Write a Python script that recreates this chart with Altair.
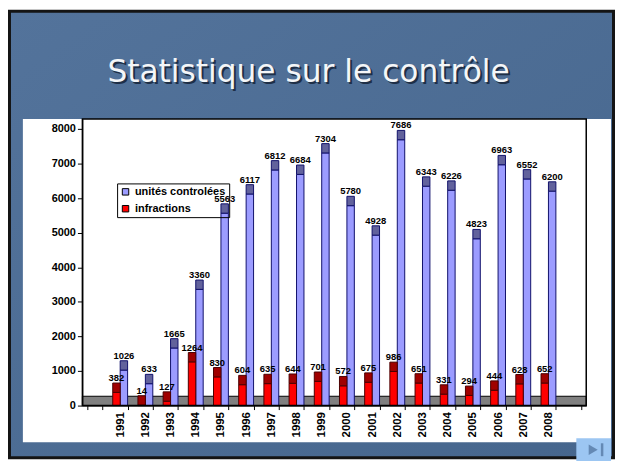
import altair as alt
import pandas as pd

# ---------------- data ----------------
years = ["1991", "1992", "1993", "1994", "1995", "1996", "1997", "1998", "1999",
         "2000", "2001", "2002", "2003", "2004", "2005", "2006", "2007", "2008"]
unites = [1026, 633, 1665, 3360, 5563, 6117, 6812, 6684, 7304,
          5780, 4928, 7686, 6343, 6226, 4823, 6963, 6552, 6200]
infractions = [382, 14, 127, 1264, 830, 604, 635, 644, 701,
               572, 675, 986, 651, 331, 294, 444, 628, 652]
series_names = ["unités controlées", "infractions"]
y_ticks = [0, 1000, 2000, 3000, 4000, 5000, 6000, 7000, 8000]
title_text = "Statistique sur le contrôle"

# ---------------- styles ----------------
DEPTH = 270          # apparent 3D depth of bar tops / floor, in data units
Y_MAX = 8287
W, H = 508, 289
FONT = "Liberation Sans"
fill_colors = {"unités controlées": "#9c9cff", "infractions": "#ff0000"}
cap_colors = {"unités controlées": "#62629c", "infractions": "#a00000"}
stroke_colors = {"unités controlées": "#10106a", "infractions": "#4a0000"}

rows = []
for i, yr in enumerate(years):
    for s, vals in ((series_names[0], unites), (series_names[1], infractions)):
        v = vals[i]
        rows.append({"year": yr, "series": s, "value": v, "top": v + DEPTH,
                     "cap": cap_colors[s], "edge": stroke_colors[s]})
df = pd.DataFrame(rows)

x_domain = ["1990"] + years + ["2009"]

x_enc = alt.X("year:N",
              scale=alt.Scale(domain=x_domain, paddingInner=0.41, paddingOuter=0.205),
              axis=alt.Axis(labelAngle=-90, tickBand="extent", tickSize=4,
                            labelPadding=2, labelFontSize=11.5, zindex=1,
                            labelFont=FONT, labelFontWeight="bold", labelColor="black",
                            domainColor="black", tickColor="black", grid=False,
                            labelOverlap=False,
                            labelExpr="(datum.value == '1990' || datum.value == '2009') ? '' : datum.label"),
              title=None)
xoff_enc = alt.XOffset("series:N",
                       scale=alt.Scale(domain=["infractions", "unités controlées"],
                                       paddingInner=0, paddingOuter=0))
y_scale = alt.Scale(domain=[0, Y_MAX], nice=False, zero=True)
y_axis = alt.Axis(values=y_ticks, format="d", labelOverlap=False, tickCount=9,
                  tickSize=5, labelPadding=2, labelFontSize=11,
                  zindex=1, labelFont=FONT, labelFontWeight="bold",
                  labelColor="black", domainColor="black", tickColor="black",
                  grid=False)

one = pd.DataFrame({"k": [0]})

slide_bg = alt.Chart(one).mark_rect(
    fill=alt.Gradient(gradient="linear",
                      stops=[alt.GradientStop(color="#53739b", offset=0),
                             alt.GradientStop(color="#46668d", offset=1)],
                      x1=0, x2=1, y1=0, y2=1),
    stroke="#141414", strokeWidth=3
).encode(x=alt.value(-73.5), x2=alt.value(535.5), y=alt.value(-108.5), y2=alt.value(341.5))

white_box = alt.Chart(one).mark_rect(fill="white").encode(
    x=alt.value(-60), x2=alt.value(533), y=alt.value(0), y2=alt.value(326))

floor = alt.Chart(one).mark_rect(fill="#808080", stroke="black", strokeWidth=1).encode(
    x=alt.value(0), x2=alt.value(W),
    y=alt.Y(datum=DEPTH, scale=y_scale, axis=y_axis, title=None), y2=alt.datum(0))

bars = alt.Chart(df).mark_bar(strokeWidth=1).encode(
    x=x_enc, xOffset=xoff_enc,
    y=alt.Y("value:Q", scale=y_scale, axis=y_axis, title=None),
    y2=alt.datum(0),
    fill=alt.Fill("series:N",
                  scale=alt.Scale(domain=series_names,
                                  range=[fill_colors[s] for s in series_names]),
                  title=None,
                  legend=alt.Legend(orient="none", legendX=35, legendY=65,
                                    symbolType="square", symbolSize=42,
                                    symbolStrokeColor="black", symbolStrokeWidth=1,
                                    labelFont=FONT, labelFontWeight="bold",
                                    labelFontSize=11, labelColor="black",
                                    strokeColor="black", padding=3, rowPadding=5,
                                    labelOffset=4, zindex=1)),
    stroke=alt.Stroke("edge:N", scale=None),
)

caps = alt.Chart(df).mark_bar(strokeWidth=1).encode(
    x=x_enc, xOffset=xoff_enc,
    y=alt.Y("top:Q", scale=y_scale, axis=y_axis, title=None), y2="value:Q",
    color=alt.Color("cap:N", scale=None),
    stroke=alt.Stroke("edge:N", scale=None),
)

labels = alt.Chart(df).mark_text(font=FONT, fontWeight="bold", fontSize=9.5,
                                 baseline="middle", dy=-5, color="black").encode(
    x=x_enc, xOffset=xoff_enc,
    y=alt.Y("top:Q", scale=y_scale, axis=y_axis, title=None),
    text=alt.Text("value:Q", format="d"),
)

frame = alt.Chart(one).mark_rect(fillOpacity=0, stroke="black", strokeWidth=1.5).encode(
    x=alt.value(0), x2=alt.value(W), y=alt.value(0), y2=alt.value(H))

button = alt.Chart(one).mark_rect(fill="#9cc6f2").encode(
    x=alt.value(498), x2=alt.value(533), y=alt.value(322), y2=alt.value(345))
btn_tri = alt.Chart(one).mark_point(shape="triangle-right", filled=True,
                                    color="#6489b4", size=110, opacity=1).encode(
    x=alt.value(515), y=alt.value(333.5))
btn_bar = alt.Chart(one).mark_rule(color="#6489b4", strokeWidth=2.5).encode(
    x=alt.value(524), y=alt.value(327), y2=alt.value(340))

title_shadow = alt.Chart(one).mark_text(font="DejaVu Sans", fontSize=31.5,
                                        color="#1e2f47", align="center",
                                        baseline="alphabetic").encode(
    x=alt.value(230), y=alt.value(-35), text=alt.value(title_text))
title = alt.Chart(one).mark_text(font="DejaVu Sans", fontSize=31.5,
                                 color="#f4f6f8", align="center",
                                 baseline="alphabetic").encode(
    x=alt.value(228), y=alt.value(-37), text=alt.value(title_text))

chart = alt.layer(
    slide_bg, white_box, floor, bars, caps, labels, frame,
    button, btn_tri, btn_bar, title_shadow, title
).resolve_scale(
    color="independent", stroke="independent"
).properties(
    width=W, height=H,
    padding={"left": 75, "top": 110, "right": 29, "bottom": 54},
    autosize=alt.AutoSizeParams(type="none"),
    background="white",
).configure_view(
    stroke="transparent"
)

chart.save("out.html", embed_options={"renderer": "svg", "actions": False})
